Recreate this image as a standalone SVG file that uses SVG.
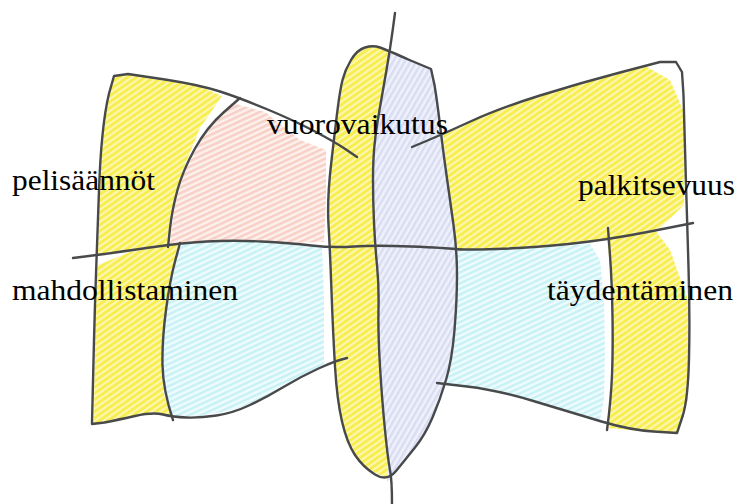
<svg xmlns="http://www.w3.org/2000/svg" width="740" height="504" viewBox="0 0 740 504">
<defs>
<pattern id="py" width="5" height="5" patternUnits="userSpaceOnUse" patternTransform="rotate(-35)">
<rect width="5" height="5" fill="#fcf7b4"/><rect width="5" height="3" fill="#f8ee52"/>
</pattern>
<pattern id="pp" width="5" height="5" patternUnits="userSpaceOnUse" patternTransform="rotate(-25)">
<rect width="5" height="5" fill="#fdf1ed"/><rect width="5" height="2.5" fill="#f7cfc6"/>
</pattern>
<pattern id="pc" width="5" height="5" patternUnits="userSpaceOnUse" patternTransform="rotate(-25)">
<rect width="5" height="5" fill="#effcfd"/><rect width="5" height="2.5" fill="#c8f1f5"/>
</pattern>
<pattern id="pl" width="5" height="5" patternUnits="userSpaceOnUse" patternTransform="rotate(-60)">
<rect width="5" height="5" fill="#f0f1fb"/><rect width="5" height="2.5" fill="#d9ddf2"/>
</pattern>
</defs>
<style>
.ln{fill:none;stroke:#47494b;stroke-width:2.4;stroke-linecap:round;stroke-linejoin:round}
.y{fill:url(#py)}.p{fill:url(#pp)}.c{fill:url(#pc)}.l{fill:url(#pl)}
.t{font-family:"Liberation Serif","Times New Roman",serif;font-size:28.5px;fill:#000}
</style>
<rect width="740" height="504" fill="#ffffff"/>
<g id="fills">
<path class="y" d="M114,76 L130,74 L195,84 L222,96 L200,128 L183,170 L172,210 L168,247 L120,252 L98,255 L100,160 L105,110 Z"/>
<path class="p" d="M232,103 L265,112 L300,140 L326,150 L326,200 L324,242 L290,243 L233,240 L180,243 L170,245 L174,208 L185,170 L207,130 Z"/>
<path class="y" d="M98,265 L130,252 L178,244 L170,280 L162,340 L163,390 L171,416 L153,412 L117,420 L94,424 L95,300 Z"/>
<path class="c" d="M180,243 L233,240 L290,243 L322,247 L324,300 L324,364 L300,377 L267,397 L233,410 L200,416 L173,416 L163,390 L162,340 L170,280 Z"/>
<path class="y" d="M357,50 L373,45 L387,50 L390,50 L383,90 L376,130 L373,160 L373,200 L375,245 L379,285 L378,333 L382,400 L388,460 L387,478 L363,467 L347,443 L337,400 L333,333 L330,250 L327,200 L335,130 L340,90 L345,70 Z"/>
<path class="l" d="M390,50 L432,70 L437,100 L443,150 L450,200 L457,250 L457,300 L452,360 L440,400 L425,435 L405,460 L387,482 L388,460 L382,400 L378,333 L379,285 L375,245 L373,200 L373,160 L376,130 L383,90 Z"/>
<path class="y" d="M443,135 L500,108 L580,83 L645,66 L670,80 L683,110 L685,150 L684,205 L660,228 L607,240 L530,248 L463,250 L457,250 L450,200 Z"/>
<path class="c" d="M457,250 L463,250 L530,248 L590,244 L600,260 L604,300 L605,350 L604,400 L600,420 L573,413 L497,390 L446,385 L452,360 L457,300 Z"/>
<path class="y" d="M607,240 L655,230 L670,250 L688,300 L688,400 L677,433 L630,430 L607,428 L611,400 L613,350 L612,283 Z"/>
</g>
<g id="lines">
<path class="ln" d="M357,157 L346,149.5 Q335,142 314,131 Q293,120 266.5,109 Q240,98 220,91.5 Q200,85 165,79.5 L128,74 L114,76 L109,93.5 Q105,110 102.5,135 Q100,160 99,190 Q98,220 96.5,260 Q95,300 94,340 Q93,380 92.5,402.5 L92,424 L104.5,422.5 Q117,420 135,416 Q153,412 163,414.5 Q173,417 186.5,417.5 Q200,418 216.5,415.5 Q233,413 250,405 Q267,397 283.5,387 Q300,377 318.5,368.5 Q337,360 347,358"/>
<path class="ln" d="M240,98 L223.5,112.5 Q207,127 195,148.5 Q183,170 177.5,190 Q172,210 170,228.5 L168,247"/>
<path class="ln" d="M180,243 L175,261.5 Q170,280 166,310 Q162,340 162.5,365 Q163,390 173,420"/>
<path class="ln" d="M73,258 L96.5,255 Q120,252 150,247.5 Q180,243 206.5,241.5 Q233,240 261.5,241.5 Q290,243 311.5,245.5 Q333,248 354,246.5 Q375,245 411,246.5 Q447,248 455,249 Q463,250 496.5,249 Q530,248 568.5,244 Q607,240 650,231.5 L693,223"/>
<path class="ln" d="M351,60 Q357,50 365,47.5 Q373,45 380,47.5 Q387,50 409.5,60 L431,69 L434.5,85 Q437,100 440,125 Q443,150 446.5,175 Q450,200 453.5,225 Q457,250 457,275 Q457,300 454.5,330 Q452,360 446,380 Q440,400 432.5,417.5 Q425,435 415,447.5 Q405,460 396,471 Q387,482 375,474.5 Q363,467 355,455 Q347,443 342,421.5 Q337,400 335,366.5 Q333,333 331.5,291.5 Q330,250 328.5,225 Q327,200 331,165 Q335,130 337.5,110 Q340,90 342.5,80 Q345,70 351,60 Z"/>
<path class="ln" d="M395,13 L392.5,31.5 Q390,50 386.5,70 Q383,90 379.5,110 Q376,130 374.5,145 Q373,160 373,180 Q373,200 374,222.5 Q375,245 377,265 Q379,285 378.5,309 Q378,333 380,366.5 Q382,400 385,430 Q388,460 390,470 Q392,480 392,504"/>
<path class="ln" d="M412,147 L427.5,140.5 Q443,134 471.5,121 Q500,108 540,95.5 Q580,83 620,72.5 L660,62 L676,62 L682,72 L683.5,95 Q685,150 686,183.5 Q687,217 688.5,267 Q690,317 689,358.5 Q688,400 682.5,416.5 L677,433 L653.5,431.5 Q630,430 601.5,421.5 Q573,413 535,401.5 Q497,390 467,386.5 L437,383"/>
<path class="ln" d="M608,228 L610,255.5 Q612,283 612.5,316.5 Q613,350 612,375 Q611,400 607,430"/>
</g>
<g id="labels">
<text class="t" x="12" y="190" textLength="143" lengthAdjust="spacingAndGlyphs">pelisäännöt</text>
<text class="t" x="267" y="134" textLength="181" lengthAdjust="spacingAndGlyphs">vuorovaikutus</text>
<text class="t" x="578" y="195" textLength="157" lengthAdjust="spacingAndGlyphs">palkitsevuus</text>
<text class="t" x="12" y="300" textLength="226" lengthAdjust="spacingAndGlyphs">mahdollistaminen</text>
<text class="t" x="547" y="300" textLength="186" lengthAdjust="spacingAndGlyphs">täydentäminen</text>
</g>
</svg>
